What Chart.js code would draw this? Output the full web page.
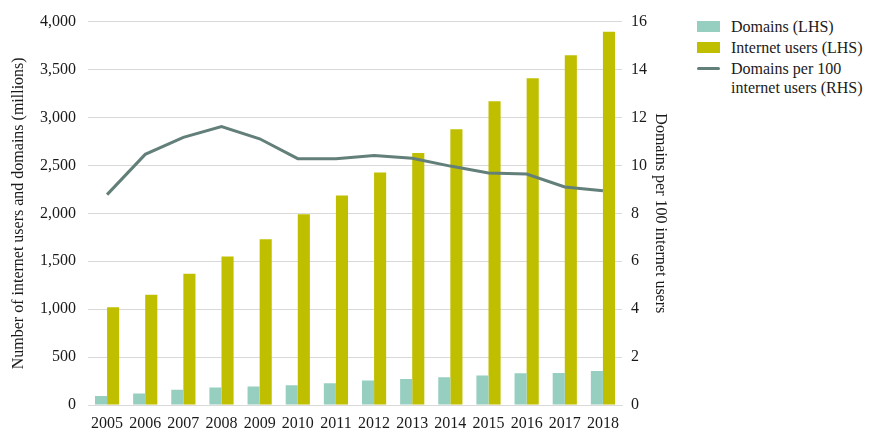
<!DOCTYPE html>
<html>
<head>
<meta charset="utf-8">
<script src="https://cdn.jsdelivr.net/npm/chart.js@4/dist/chart.umd.min.js"></script>
<style>
  html, body { margin: 0; padding: 0; background: #fff; }
  #wrap { position: relative; width: 873px; height: 443px; }
  #chartBox { position: absolute; left: 0; top: 0; width: 680px; height: 443px; }
  #legend { position: absolute; left: 697px; top: 17px; font-family: "Liberation Serif", serif; font-size: 16px; color: #1a1a1a; }
  .item { display: flex; align-items: flex-start; margin-bottom: 2px; line-height: 19px; }
  .swatch { width: 23px; height: 11px; margin-top: 4px; margin-right: 11px; flex: none; }
  .dash { width: 23px; height: 3px; margin-top: 8px; margin-right: 11px; flex: none; border-radius: 2px; }
</style>
</head>
<body>
<div id="wrap">
  <div id="chartBox"><canvas id="chart"></canvas></div>
  <div id="legend">
    <div class="item"><div class="swatch" style="background:#96cfc0"></div><div>Domains (LHS)</div></div>
    <div class="item"><div class="swatch" style="background:#bfbf00"></div><div>Internet users (LHS)</div></div>
    <div class="item"><div class="dash" style="background:#637f79"></div><div>Domains per 100<br>internet users (RHS)</div></div>
  </div>
</div>
<script>
// values
const years = ["2005", "2006", "2007", "2008", "2009", "2010", "2011", "2012", "2013", "2014", "2015", "2016", "2017", "2018"];
const domains = [93, 121, 159, 183, 193, 207, 228, 256, 272, 290, 307, 331, 335, 355];
const internetUsers = [1020, 1150, 1370, 1550, 1730, 1990, 2185, 2425, 2628, 2878, 3170, 3410, 3648, 3895];
const domainsPer100 = [8.78, 10.46, 11.17, 11.62, 11.11, 10.28, 10.28, 10.41, 10.30, 9.97, 9.68, 9.64, 9.10, 8.94];

const FONT = "'Liberation Serif', serif";
const TEXT = "#1a1a1a";
const GRID = "#d9d9d9";

new Chart(document.getElementById("chart").getContext("2d"), {
  type: "bar",
  data: {
    labels: years,
    datasets: [
      {
        type: "line",
        label: "Domains per 100 internet users (RHS)",
        data: domainsPer100,
        yAxisID: "y2",
        borderColor: "#637f79",
        borderWidth: 3,
        pointRadius: 0,
        tension: 0,
        order: 0
      },
      {
        label: "Domains (LHS)",
        data: domains,
        yAxisID: "y",
        backgroundColor: "#96cfc0",
        categoryPercentage: 0.634,
        barPercentage: 1,
        order: 1
      },
      {
        label: "Internet users (LHS)",
        data: internetUsers,
        yAxisID: "y",
        backgroundColor: "#bfbf00",
        categoryPercentage: 0.634,
        barPercentage: 1,
        order: 1
      }
    ]
  },
  options: {
    responsive: true,
    maintainAspectRatio: false,
    animation: false,
    layout: { padding: { left: 9, right: 6, top: 9, bottom: 0 } },
    plugins: {
      legend: { display: false },
      tooltip: { enabled: false }
    },
    scales: {
      x: {
        grid: { display: false, drawTicks: false },
        border: { display: true, color: GRID, width: 1 },
        ticks: { color: TEXT, font: { family: FONT, size: 16 }, padding: 9, maxRotation: 0 },
        afterFit: (axis) => { axis.height = 38; }
      },
      y: {
        position: "left",
        min: 0,
        max: 4000,
        grid: { color: GRID, drawTicks: false },
        border: { display: false },
        ticks: {
          stepSize: 500,
          color: TEXT,
          padding: 12,
          font: { family: FONT, size: 16 },
          callback: (v) => v.toLocaleString("en-US")
        },
        title: {
          display: true,
          text: "Number of internet users and domains (millions)",
          color: TEXT,
          font: { family: FONT, size: 16 },
          padding: { top: 0, bottom: 4 }
        },
        afterFit: (axis) => { axis.width = 79; }
      },
      y2: {
        position: "right",
        min: 0,
        max: 16,
        grid: { display: false, drawTicks: false },
        border: { display: false },
        ticks: { stepSize: 2, color: TEXT, padding: 9, font: { family: FONT, size: 16 } },
        title: {
          display: true,
          text: "Domains per 100 internet users",
          color: TEXT,
          font: { family: FONT, size: 16 },
          padding: { top: 4, bottom: 0 }
        },
        afterFit: (axis) => { axis.width = 52; }
      }
    }
  }
});
</script>
</body>
</html>
